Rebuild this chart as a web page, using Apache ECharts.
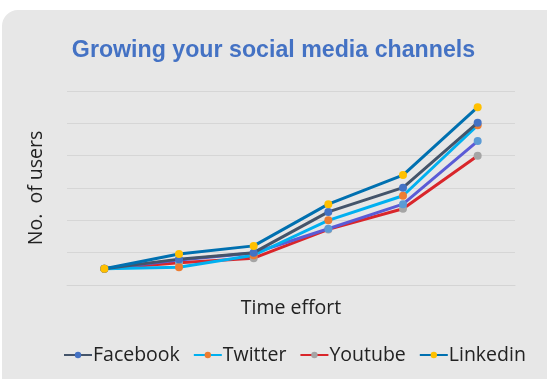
<!DOCTYPE html>
<html><head><meta charset="utf-8">
<script src="https://cdn.jsdelivr.net/npm/echarts@6/dist/echarts.min.js"></script>
<style>html,body{margin:0;padding:0;background:#fff}#c{width:547px;height:379px}</style>
</head><body><div id="c"></div>
<script>
var categories = ['1','2','3','4','5','6'];
var facebook = [0.5, 0.8, 1.0, 2.26, 3.01, 5.02];
var twitter  = [0.5, 0.55, 0.92, 2.0, 2.76, 4.94];
var youtube  = [0.5, 0.69, 0.83, 1.72, 2.36, 4.0];
var linkedin = [0.5, 0.96, 1.21, 2.5, 3.4, 5.5];
var other    = [0.5, 0.77, 0.99, 1.74, 2.5, 4.45];
var legendNames = ['Facebook','Twitter','Youtube','Linkedin'];

var chart = echarts.init(document.getElementById('c'));
function s(name, data, line, mark, z) {
  return {name: name, type: 'line', data: data, symbol: 'circle', symbolSize: 8,
    z: z, lineStyle: {color: line, width: 3}, itemStyle: {color: mark},
    emphasis: {disabled: true}, animation: false};
}
chart.setOption({
  animation: false,
  graphic: [{type: 'rect', z: -10, silent: true,
    shape: {x: 2, y: 10, width: 560, height: 400, r: 16},
    style: {fill: '#E7E7E7'}}],
  title: {text: 'Growing your social media channels', left: 'center', top: 34,
    textStyle: {color: '#4472C4', fontSize: 23.2, fontWeight: 'bold', fontFamily: 'Liberation Sans'}},
  legend: {data: legendNames, bottom: 9, left: 58, itemWidth: 28, itemHeight: 8, itemGap: 13,
    textStyle: {fontSize: 19.5, color: '#222', fontFamily: 'Open Sans', padding: [0,0,0,-4]}},
  grid: {left: 67, right: 32, top: 91, bottom: 94},
  xAxis: {type: 'category', data: categories, boundaryGap: true,
    name: 'Time effort', nameLocation: 'middle', nameGap: 13,
    nameTextStyle: {fontSize: 19.5, color: '#222', fontFamily: 'Open Sans'},
    axisLine: {lineStyle: {color: '#D4D4D4'}}, axisTick: {show: false}, axisLabel: {show: false}},
  yAxis: {type: 'value', min: 0, max: 6, interval: 1,
    name: 'No.  of users', nameLocation: 'middle', nameGap: 21,
    nameTextStyle: {fontSize: 19.5, color: '#222', fontFamily: 'Open Sans'},
    axisLabel: {show: false}, axisLine: {show: false}, axisTick: {show: false},
    splitLine: {lineStyle: {color: '#D6D6D6', width: 1}}},
  series: [
    s('Youtube', youtube, '#D9262B', '#A5A5A5', 2),
    s('Other', other, '#5B5BD6', '#5B9BD5', 3),
    s('Twitter', twitter, '#00B0F0', '#ED7D31', 4),
    s('Facebook', facebook, '#44546A', '#4472C4', 5),
    s('Linkedin', linkedin, '#0070B0', '#FFC000', 6)
  ]
});
</script></body></html>
